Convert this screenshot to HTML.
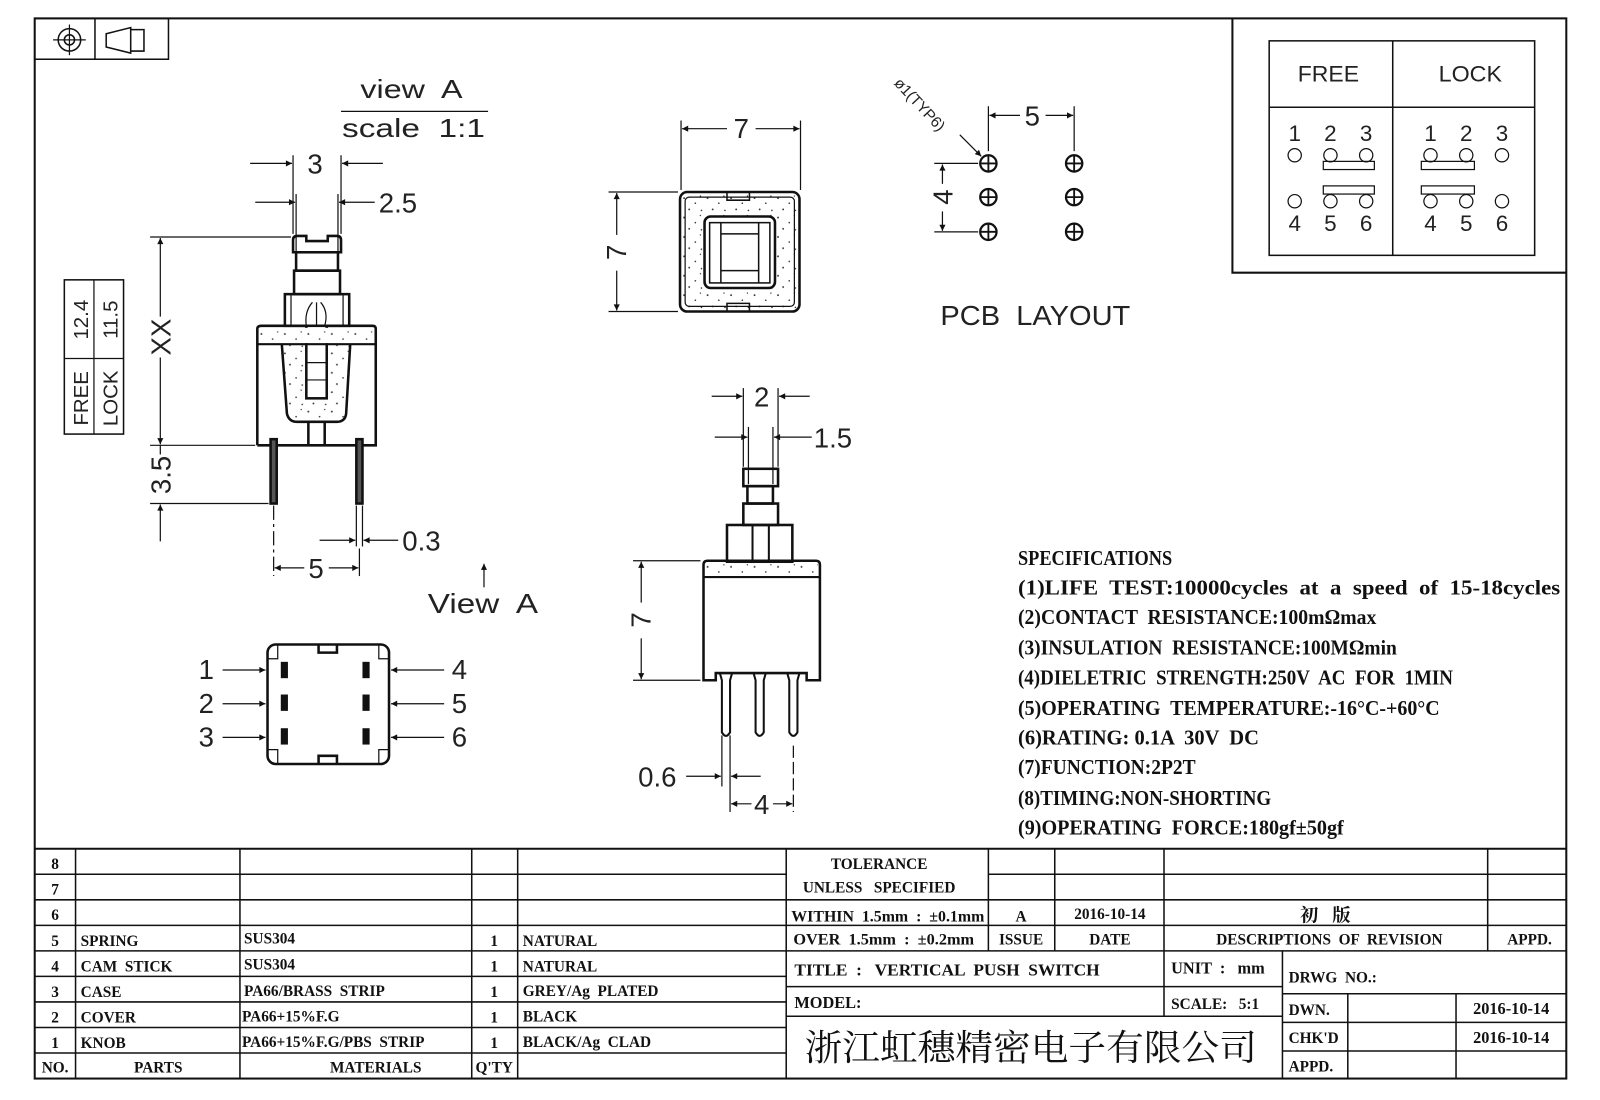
<!DOCTYPE html>
<html><head><meta charset="utf-8"><style>
html,body{margin:0;padding:0;background:#fff;}
svg{display:block;}
text{white-space:pre;}
.d{font-family:"Liberation Sans",sans-serif;font-weight:normal;fill:#222;}
.t{font-family:"Liberation Serif","Noto Serif CJK SC",serif;font-weight:bold;fill:#111;}
</style></head><body>
<svg width="1600" height="1100" viewBox="0 0 1567 1077" preserveAspectRatio="none" xmlns="http://www.w3.org/2000/svg">
<defs>
<marker id="a" viewBox="0 0 10 10" refX="10" refY="5" markerWidth="14" markerHeight="6" markerUnits="userSpaceOnUse" orient="auto-start-reverse"><path d="M0,0 L10,5 L0,10 z" fill="#111"/></marker>
<pattern id="sp" width="23" height="19" patternUnits="userSpaceOnUse"><rect width="23" height="19" fill="#fff"/><circle cx="3" cy="4" r="0.9" fill="#333"/><circle cx="14" cy="9" r="0.8" fill="#333"/><circle cx="8" cy="15" r="0.9" fill="#333"/><circle cx="19" cy="2" r="0.7" fill="#333"/><circle cx="20" cy="16" r="0.8" fill="#333"/></pattern>
</defs>
<rect width="1567" height="1077" fill="#fff"/>
<g fill="none" stroke="#111">
<rect x="34" y="18" width="1500" height="1038" stroke-width="2"/>
<rect x="34" y="18" width="131" height="40" stroke-width="1.5"/>
<line x1="93" y1="18" x2="93" y2="58" stroke-width="1.5"/>
<circle cx="68" cy="39" r="11" stroke-width="1.5"/><circle cx="68" cy="39" r="5" stroke-width="1.5"/>
<line x1="52" y1="39" x2="84" y2="39" stroke-width="1.2"/><line x1="68" y1="24" x2="68" y2="54" stroke-width="1.2"/>
<path d="M104 33 L128 27 L128 52 L104 46 Z M128 29 H141 V50 H128" stroke-width="1.5"/>
<path d="M1207 18 V267 H1534" stroke-width="2"/>
<rect x="1243" y="40" width="260" height="210" stroke-width="1.5"/>
<line x1="1364" y1="40" x2="1364" y2="250" stroke-width="1.5"/>
<line x1="1243" y1="105" x2="1503" y2="105" stroke-width="1.5"/>
<g stroke-width="1.2">
<circle cx="1268" cy="152" r="6.5"/><circle cx="1303" cy="152" r="6.5"/><circle cx="1338" cy="152" r="6.5"/>
<circle cx="1268" cy="197" r="6.5"/><circle cx="1303" cy="197" r="6.5"/><circle cx="1338" cy="197" r="6.5"/>
<rect x="1296" y="158" width="50" height="8"/><rect x="1296" y="182" width="50" height="8"/>
<circle cx="1401" cy="152" r="6.5"/><circle cx="1436" cy="152" r="6.5"/><circle cx="1471" cy="152" r="6.5"/>
<circle cx="1401" cy="197" r="6.5"/><circle cx="1436" cy="197" r="6.5"/><circle cx="1471" cy="197" r="6.5"/>
<rect x="1392" y="158" width="52" height="8"/><rect x="1392" y="182" width="52" height="8"/>
</g>
<rect x="63" y="274" width="58" height="151" stroke-width="1.5"/>
<line x1="92" y1="274" x2="92" y2="425" stroke-width="1.2"/><line x1="63" y1="351" x2="121" y2="351" stroke-width="1.2"/>
<line x1="334" y1="109" x2="478" y2="109" stroke-width="1.2"/>
<line x1="474" y1="575" x2="474" y2="552" stroke-width="1.2" marker-end="url(#a)"/>

<g stroke-width="2.5">
<path d="M287 247 V235 Q287 231 291 231 H300 V236 H321 V231 H330 Q334 231 334 235 V247 Z"/>
<rect x="290" y="247" width="41" height="18"/>
<rect x="288" y="265" width="45" height="23"/>
<rect x="279" y="288" width="63" height="31"/>
<path d="M252 436 V322 Q252 319 256 319 H365 Q368 319 368 322 V436 H355 M265 436 H252"/>
<path d="M276 337 L281 405 Q283 413 291 413 L330 413 Q338 413 339 405 L343 337" fill="url(#sp)"/>
<rect x="300" y="319" width="20" height="71" fill="#fff"/>
<path d="M302 413 V436 M318 413 V436 M271 436 H349"/>
<rect x="265" y="430" width="6" height="63" fill="#555"/><rect x="349" y="430" width="6" height="63" fill="#555"/>
</g>
<rect x="254" y="321" width="112" height="15" fill="url(#sp)" stroke="none"/>
<line x1="252" y1="337" x2="368" y2="337" stroke-width="2"/>
<g stroke-width="1.2"><line x1="285" y1="288" x2="285" y2="319"/><line x1="336" y1="288" x2="336" y2="319"/>
<path d="M300 319 Q298 305 306 296 M310 319 V296 M318 319 Q322 305 314 296"/>
<line x1="300" y1="355" x2="320" y2="355"/><line x1="300" y1="372" x2="320" y2="372"/></g>
<g stroke-width="1.2">
<line x1="147" y1="232" x2="285" y2="232"/><line x1="147" y1="436" x2="250" y2="436"/><line x1="147" y1="493" x2="263" y2="493"/>
<line x1="157" y1="310" x2="157" y2="233" marker-end="url(#a)"/><line x1="157" y1="350" x2="157" y2="435" marker-end="url(#a)"/>
<line x1="157" y1="436" x2="157" y2="445"/>
<line x1="157" y1="530" x2="157" y2="494" marker-end="url(#a)"/>
<line x1="287" y1="152" x2="287" y2="229"/><line x1="334" y1="152" x2="334" y2="229"/>
<line x1="245" y1="160" x2="286" y2="160" marker-end="url(#a)"/><line x1="375" y1="160" x2="335" y2="160" marker-end="url(#a)"/>
<line x1="290" y1="190" x2="290" y2="246"/><line x1="331" y1="190" x2="331" y2="246"/>
<line x1="250" y1="198" x2="289" y2="198" marker-end="url(#a)"/><line x1="367" y1="198" x2="332" y2="198" marker-end="url(#a)"/>
<line x1="349" y1="495" x2="349" y2="535"/><line x1="355" y1="495" x2="355" y2="535"/>
<line x1="313" y1="529" x2="348" y2="529" marker-end="url(#a)"/><line x1="390" y1="529" x2="356" y2="529" marker-end="url(#a)"/>
<line x1="268" y1="495" x2="268" y2="564" stroke-dasharray="14 4 3 4"/><line x1="352" y1="537" x2="352" y2="564"/>
<line x1="298" y1="556" x2="269" y2="556" marker-end="url(#a)"/><line x1="322" y1="556" x2="351" y2="556" marker-end="url(#a)"/>
</g>

<g stroke-width="2.5">
<rect x="262" y="631" width="119" height="117" rx="8"/>
<path d="M312 631 V639 H330 V631 M312 748 V740 H330 V748"/>
</g>
<g stroke-width="1.2"><path d="M262 645 H272 V631 M381 645 H371 V631 M262 734 H272 V748 M381 734 H371 V748"/></g>
<g fill="#111" stroke="none">
<rect x="275" y="648" width="7" height="16"/><rect x="275" y="680" width="7" height="16"/><rect x="275" y="713" width="7" height="16"/>
<rect x="355" y="648" width="7" height="16"/><rect x="355" y="680" width="7" height="16"/><rect x="355" y="713" width="7" height="16"/>
</g>
<g stroke-width="1.2">
<line x1="218" y1="656" x2="260" y2="656" marker-end="url(#a)"/><line x1="218" y1="689" x2="260" y2="689" marker-end="url(#a)"/><line x1="218" y1="722" x2="260" y2="722" marker-end="url(#a)"/>
<line x1="435" y1="656" x2="383" y2="656" marker-end="url(#a)"/><line x1="435" y1="689" x2="383" y2="689" marker-end="url(#a)"/><line x1="435" y1="722" x2="383" y2="722" marker-end="url(#a)"/>
</g>

<rect x="666" y="188" width="117" height="117" rx="7" stroke-width="2.5" fill="url(#sp)"/>
<rect x="671" y="193" width="107" height="107" rx="4" stroke-width="1.2"/>
<rect x="690" y="212" width="69" height="70" rx="6" stroke-width="2.5" fill="#fff"/>
<g stroke-width="1.5"><rect x="695" y="218" width="59" height="59"/><line x1="706" y1="218" x2="706" y2="277"/><line x1="743" y1="218" x2="743" y2="277"/>
<line x1="706" y1="229" x2="743" y2="229"/><line x1="706" y1="265" x2="743" y2="265"/>
<path d="M712 188 V196 H734 V188 M712 305 V297 H734 V305"/></g>
<g stroke-width="1.2">
<line x1="667" y1="118" x2="667" y2="186"/><line x1="784" y1="118" x2="784" y2="186"/>
<line x1="712" y1="126" x2="668" y2="126" marker-end="url(#a)"/><line x1="740" y1="126" x2="783" y2="126" marker-end="url(#a)"/>
<line x1="596" y1="188" x2="664" y2="188"/><line x1="596" y1="305" x2="664" y2="305"/>
<line x1="604" y1="230" x2="604" y2="189" marker-end="url(#a)"/><line x1="604" y1="265" x2="604" y2="304" marker-end="url(#a)"/>
</g>

<g stroke-width="2.2">
<circle cx="968" cy="160" r="8"/><circle cx="968" cy="193" r="8"/><circle cx="968" cy="227" r="8"/>
<circle cx="1052" cy="160" r="8"/><circle cx="1052" cy="193" r="8"/><circle cx="1052" cy="227" r="8"/>
<path d="M960 160 H976 M968 152 V168 M960 193 H976 M968 185 V201 M960 227 H976 M968 219 V235 M1044 160 H1060 M1052 152 V168 M1044 193 H1060 M1052 185 V201 M1044 227 H1060 M1052 219 V235" stroke-width="1.8"/>
</g>
<g stroke-width="1.2">
<line x1="968" y1="104" x2="968" y2="148"/><line x1="1052" y1="104" x2="1052" y2="148"/>
<line x1="999" y1="113" x2="969" y2="113" marker-end="url(#a)"/><line x1="1024" y1="113" x2="1051" y2="113" marker-end="url(#a)"/>
<path d="M940 132 L961 153" marker-end="url(#a)"/>
<line x1="915" y1="160" x2="958" y2="160"/><line x1="915" y1="227" x2="958" y2="227"/>
<line x1="923" y1="180" x2="923" y2="161" marker-end="url(#a)"/><line x1="923" y1="207" x2="923" y2="226" marker-end="url(#a)"/>
</g>

<g stroke-width="2.5">
<rect x="728" y="459" width="34" height="17"/>
<rect x="732" y="476" width="25" height="17"/>
<rect x="728" y="493" width="34" height="21"/>
<rect x="712" y="514" width="64" height="36"/>
<path d="M737 514 V550 M753 514 V550" stroke-width="2"/>
<path d="M689 666 V553 Q689 549 693 549 H799 Q803 549 803 553 V666 H790 V659 H701 V666 Z"/>
<path d="M705 659 L707 666 V717 Q711 724 715 717 V666 L717 659 M738 659 L740 666 V717 Q744 724 748 717 V666 L750 659 M771 659 L773 666 V717 Q777 724 781 717 V666 L783 659" stroke-width="2"/>
</g>
<rect x="691" y="552" width="110" height="12" fill="url(#sp)" stroke="none"/>
<line x1="689" y1="565" x2="803" y2="565" stroke-width="2"/>
<g stroke-width="1.2">
<line x1="620" y1="549" x2="686" y2="549"/><line x1="620" y1="666" x2="686" y2="666"/>
<line x1="628" y1="590" x2="628" y2="550" marker-end="url(#a)"/><line x1="628" y1="625" x2="628" y2="665" marker-end="url(#a)"/>
<line x1="728" y1="380" x2="728" y2="457"/><line x1="762" y1="380" x2="762" y2="457"/>
<line x1="697" y1="388" x2="727" y2="388" marker-end="url(#a)"/><line x1="793" y1="388" x2="763" y2="388" marker-end="url(#a)"/>
<line x1="733" y1="418" x2="733" y2="474"/><line x1="757" y1="418" x2="757" y2="474"/>
<line x1="700" y1="428" x2="732" y2="428" marker-end="url(#a)"/><line x1="795" y1="428" x2="758" y2="428" marker-end="url(#a)"/>
<line x1="707" y1="720" x2="707" y2="770"/><line x1="715" y1="720" x2="715" y2="795"/><line x1="777" y1="730" x2="777" y2="795" stroke-dasharray="12 4"/>
<line x1="672" y1="760" x2="706" y2="760" marker-end="url(#a)"/><line x1="745" y1="760" x2="716" y2="760" marker-end="url(#a)"/>
<line x1="736" y1="787" x2="716" y2="787" marker-end="url(#a)"/><line x1="757" y1="787" x2="776" y2="787" marker-end="url(#a)"/>
</g>

<g stroke-width="1.5">
<line x1="34" y1="831" x2="1534" y2="831" stroke-width="2"/>
<path d="M34 856 H770 M34 881 H770 M34 906 H770 M34 931 H770 M34 956 H770 M34 981 H770 M34 1006 H770 M34 1031 H770"/>
<path d="M74 831 V1056 M235 831 V1056 M462 831 V1056 M507 831 V1056 M770 831 V1056"/>
<path d="M968 856 H1534 M770 881 H1534 M770 906 H1534 M770 931 H1534"/>
<path d="M968 831 V931 M1033 831 V931 M1140 831 V931 M1457 831 V931"/>
<path d="M770 966 H1256 M770 995 H1256 M1140 931 V995 M1256 931 V1056"/>
<path d="M1256 973 H1534 M1256 1001 H1534 M1256 1029 H1534 M1320 973 V1056 M1426 973 V1056"/>
</g>
</g>

<g class="d">
<text x="353" y="96" font-size="25" textLength="100" lengthAdjust="spacingAndGlyphs">view  A</text>
<text x="335" y="134" font-size="25" textLength="140" lengthAdjust="spacingAndGlyphs">scale  1:1</text>
<text x="301" y="170" font-size="27">3</text>
<text x="371" y="208" font-size="27">2.5</text>
<text x="394" y="539" font-size="27">0.3</text>
<text x="302" y="566" font-size="27">5</text>
<text x="419" y="600" font-size="27" textLength="108" lengthAdjust="spacingAndGlyphs">View  A</text>
<text transform="translate(167,330) rotate(-90)" font-size="27" text-anchor="middle">XX</text>
<text transform="translate(167,465) rotate(-90)" font-size="27" text-anchor="middle">3.5</text>
<text transform="translate(86,313) rotate(-90)" font-size="20" text-anchor="middle">12.4</text>
<text transform="translate(115,313) rotate(-90)" font-size="20" text-anchor="middle">11.5</text>
<text transform="translate(86,390) rotate(-90)" font-size="20" text-anchor="middle">FREE</text>
<text transform="translate(115,390) rotate(-90)" font-size="20" text-anchor="middle">LOCK</text>
<text x="202" y="665" font-size="27" text-anchor="middle">1</text><text x="202" y="698" font-size="27" text-anchor="middle">2</text><text x="202" y="731" font-size="27" text-anchor="middle">3</text>
<text x="450" y="665" font-size="27" text-anchor="middle">4</text><text x="450" y="698" font-size="27" text-anchor="middle">5</text><text x="450" y="731" font-size="27" text-anchor="middle">6</text>
<text x="726" y="135" font-size="27" text-anchor="middle">7</text>
<text transform="translate(613,247) rotate(-90)" font-size="27" text-anchor="middle">7</text>
<text x="1011" y="123" font-size="27" text-anchor="middle">5</text>
<text transform="translate(933,193) rotate(-90)" font-size="27" text-anchor="middle">4</text>
<text transform="translate(875,82) rotate(47)" font-size="15">ø1(TYP6)</text>
<text x="921" y="318" font-size="27" textLength="186" lengthAdjust="spacingAndGlyphs">PCB  LAYOUT</text>
<text x="746" y="398" font-size="27" text-anchor="middle">2</text>
<text x="797" y="438" font-size="27">1.5</text>
<text transform="translate(637,607) rotate(-90)" font-size="27" text-anchor="middle">7</text>
<text x="625" y="770" font-size="27">0.6</text>
<text x="746" y="797" font-size="27" text-anchor="middle">4</text>
<text x="1271" y="80" font-size="22" textLength="60" lengthAdjust="spacingAndGlyphs">FREE</text>
<text x="1409" y="80" font-size="22" textLength="62" lengthAdjust="spacingAndGlyphs">LOCK</text>
<g font-size="22" text-anchor="middle">
<text x="1268" y="138">1</text><text x="1303" y="138">2</text><text x="1338" y="138">3</text>
<text x="1268" y="226">4</text><text x="1303" y="226">5</text><text x="1338" y="226">6</text>
<text x="1401" y="138">1</text><text x="1436" y="138">2</text><text x="1471" y="138">3</text>
<text x="1401" y="226">4</text><text x="1436" y="226">5</text><text x="1471" y="226">6</text>
</g>
</g>

<g class="t" font-size="21">
<text x="997" y="553" textLength="151" lengthAdjust="spacingAndGlyphs">SPECIFICATIONS</text>
<text x="997" y="582" textLength="531" lengthAdjust="spacingAndGlyphs">(1)LIFE  TEST:10000cycles  at  a  speed  of  15-18cycles</text>
<text x="997" y="611" textLength="351" lengthAdjust="spacingAndGlyphs">(2)CONTACT  RESISTANCE:100mΩmax</text>
<text x="997" y="641" textLength="371" lengthAdjust="spacingAndGlyphs">(3)INSULATION  RESISTANCE:100MΩmin</text>
<text x="997" y="670" textLength="426" lengthAdjust="spacingAndGlyphs">(4)DIELETRIC  STRENGTH:250V  AC  FOR  1MIN</text>
<text x="997" y="700" textLength="413" lengthAdjust="spacingAndGlyphs">(5)OPERATING  TEMPERATURE:-16°C-+60°C</text>
<text x="997" y="729" textLength="236" lengthAdjust="spacingAndGlyphs">(6)RATING: 0.1A  30V  DC</text>
<text x="997" y="758" textLength="174" lengthAdjust="spacingAndGlyphs">(7)FUNCTION:2P2T</text>
<text x="997" y="788" textLength="248" lengthAdjust="spacingAndGlyphs">(8)TIMING:NON-SHORTING</text>
<text x="997" y="817" textLength="319" lengthAdjust="spacingAndGlyphs">(9)OPERATING  FORCE:180gf±50gf</text>
</g>

<g class="t" font-size="15">
<text x="54" y="851" text-anchor="middle">8</text><text x="54" y="876" text-anchor="middle">7</text><text x="54" y="901" text-anchor="middle">6</text>
<text x="54" y="926" text-anchor="middle">5</text><text x="54" y="951" text-anchor="middle">4</text><text x="54" y="976" text-anchor="middle">3</text>
<text x="54" y="1001" text-anchor="middle">2</text><text x="54" y="1026" text-anchor="middle">1</text><text x="54" y="1050" text-anchor="middle">NO.</text>
<text x="79" y="926">SPRING</text><text x="79" y="951">CAM  STICK</text><text x="79" y="976">CASE</text><text x="79" y="1001">COVER</text><text x="79" y="1026">KNOB</text>
<text x="155" y="1050" text-anchor="middle">PARTS</text>
<text x="239" y="924">SUS304</text><text x="239" y="949">SUS304</text><text x="239" y="975">PA66/BRASS  STRIP</text><text x="237" y="1000">PA66+15%F.G</text><text x="237" y="1025">PA66+15%F.G/PBS  STRIP</text>
<text x="368" y="1050" text-anchor="middle">MATERIALS</text>
<text x="484" y="926" text-anchor="middle">1</text><text x="484" y="951" text-anchor="middle">1</text><text x="484" y="976" text-anchor="middle">1</text><text x="484" y="1001" text-anchor="middle">1</text><text x="484" y="1026" text-anchor="middle">1</text>
<text x="484" y="1050" text-anchor="middle">Q'TY</text>
<text x="512" y="926">NATURAL</text><text x="512" y="951">NATURAL</text><text x="512" y="975">GREY/Ag  PLATED</text><text x="512" y="1000">BLACK</text><text x="512" y="1025">BLACK/Ag  CLAD</text>
<text x="861" y="851" text-anchor="middle">TOLERANCE</text>
<text x="861" y="874" text-anchor="middle">UNLESS   SPECIFIED</text>
<text x="775" y="902" textLength="189" lengthAdjust="spacingAndGlyphs">WITHIN  1.5mm  :  ±0.1mm</text>
<text x="777" y="925" textLength="177" lengthAdjust="spacingAndGlyphs">OVER  1.5mm  :  ±0.2mm</text>
<text x="1000" y="902" text-anchor="middle">A</text><text x="1000" y="925" text-anchor="middle">ISSUE</text>
<text x="1087" y="900" text-anchor="middle">2016-10-14</text><text x="1087" y="925" text-anchor="middle">DATE</text>
<text x="1298" y="902" text-anchor="middle" font-size="18">初   版</text>
<text x="1302" y="925" text-anchor="middle">DESCRIPTIONS  OF  REVISION</text>
<text x="1498" y="925" text-anchor="middle">APPD.</text>
<text x="778" y="955" font-size="17">TITLE  :   VERTICAL  PUSH  SWITCH</text>
<text x="1147" y="953" font-size="16">UNIT  :   mm</text>
<text x="1262" y="962">DRWG  NO.:</text>
<text x="778" y="987" font-size="16">MODEL:</text>
<text x="1147" y="988">SCALE:   5:1</text>
<text x="1262" y="994">DWN.</text><text x="1262" y="1021">CHK'D</text><text x="1262" y="1049">APPD.</text>
<text x="1480" y="993" text-anchor="middle" font-size="16">2016-10-14</text>
<text x="1480" y="1021" text-anchor="middle" font-size="16">2016-10-14</text>
</g>
<text x="788" y="1038" font-family="'Noto Serif CJK SC','Noto Sans CJK SC',serif" font-size="35" fill="#111" textLength="443" lengthAdjust="spacingAndGlyphs">浙江虹穗精密电子有限公司</text>
</svg>
</body></html>
